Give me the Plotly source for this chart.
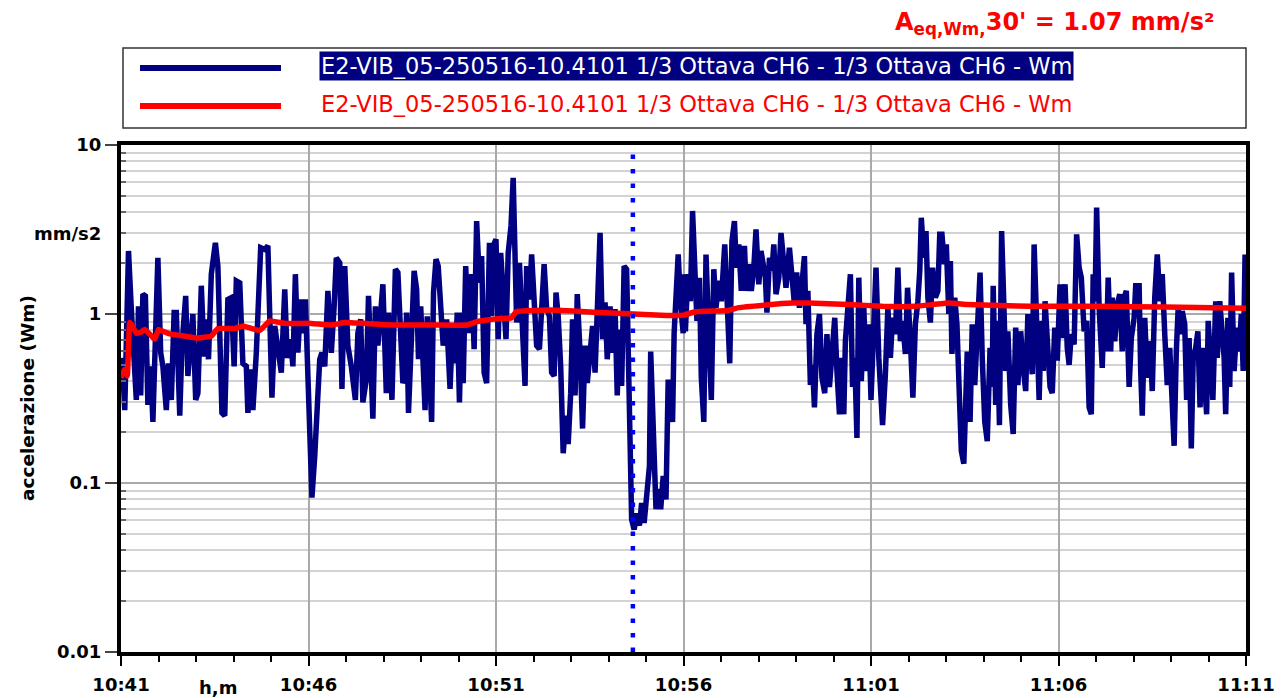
import numpy as np
import pandas as pd
import plotly.graph_objects as go

# ---------------- data ----------------
start_time = "2016-05-25 10:41:00"
duration_min = 30

# Wm weighted acceleration [mm/s2]; t = seconds after 10:41:00
blue_t = [0, 3, 6, 12, 16.5, 21, 24.5, 28, 31.5, 35, 39, 43, 47.5, 51, 55, 59, 63.5, 67, 72.5, 76, 80.5, 85, 88.5, 94, 97.5,
          103.5, 107, 111.5, 115, 119.5, 123, 128.5, 133, 136.5, 140, 144.5, 151, 155, 158.5, 161.5, 166, 171, 176.5, 181,
          184.5, 190, 195, 200.5, 203, 207.5, 211, 216.5, 223.5, 230, 235, 238, 241.5, 246, 251, 256.5, 262, 266, 271.5,
          275, 279, 283, 287.5, 291, 295, 298, 302, 305.5, 310, 314, 318, 321.5, 326, 331, 336.5, 341, 344.5, 350, 353.5,
          358, 363, 368.5, 375, 379, 383.5, 387, 392.5, 396, 400.5, 403, 407, 411, 415.5, 419, 424.5, 428, 433.5, 439, 443,
          447.5, 451,
          453, 457, 460, 463.5, 469, 473, 476, 479.5, 482.5, 486.5, 490, 494.5, 497, 500, 504, 507.5, 511.5, 515.5, 521,
          523.5, 526.5, 530.5, 534.5, 538, 541.5, 545, 547.5, 551.5, 555.5, 561, 565, 569, 573.5, 577, 581, 585, 589.5, 593,
          595.5, 600, 603.5, 607.5, 611.5, 616, 619.5, 624, 627.5, 630.5, 633, 637.5, 641, 646.5, 649, 653.5, 657, 661, 665,
          669.5, 673, 677, 681, 685.5, 689, 693, 696, 699.5, 703.5, 707.5, 712, 715.5, 719.5, 722.5, 726.5, 730, 734.5,
          738.5, 742.5, 746, 750.5, 754.5, 758.5, 762, 766.5, 770.5, 774.5, 778, 782.5, 786.5, 790.5, 794, 797.5, 801, 805,
          809, 811.5, 814.5, 817, 821, 825, 829.5, 833, 837, 841, 845.5, 847.5, 851.5, 856, 859.5, 863.5, 867.5, 872, 875.5,
          879.5, 882.5, 885, 888, 891.5, 895.5, 899.5,
          900.5, 903, 907, 911, 914.5, 919, 921.5, 925.5, 928.5, 932.5, 936, 940.5, 944.5, 948.5, 952, 956.5, 960.5, 966,
          969.5, 974, 977.5, 981.5, 984.5, 988.5, 992.5, 997.5, 1000.5, 1004.5, 1008.5, 1012.5, 1016, 1020.5, 1024, 1027,
          1031, 1033.5, 1037.5, 1041.5, 1044.5, 1048, 1052.5, 1056, 1060.5, 1064, 1069.5, 1073.5, 1077.5, 1081, 1085.5,
          1089.5, 1093.5, 1096, 1099, 1103, 1106.5, 1109.5, 1113.5, 1117.5, 1121.5, 1126, 1129.5, 1133.5, 1137.5, 1142,
          1145.5, 1149.5, 1152.5, 1156.5, 1159, 1162.5, 1167, 1170.5, 1174, 1177.5, 1180.5, 1184.5, 1188.5, 1192, 1196.5,
          1200, 1204.5, 1208, 1212.5, 1216, 1218.5, 1223, 1227, 1231, 1234.5, 1239, 1243, 1247, 1250.5, 1255, 1258.5, 1263,
          1267, 1271, 1275, 1278, 1280.5, 1284.5, 1288, 1291, 1295, 1298.5, 1303, 1307, 1310, 1313.5, 1317.5, 1320.5,
          1324.5, 1327, 1329.5, 1334, 1337.5, 1341.5, 1344.5, 1348.5, 1352,
          1354, 1358.5, 1362, 1366, 1370, 1374.5, 1378, 1382, 1386, 1390.5, 1394, 1395.5, 1399.5, 1402, 1405.5, 1409, 1413,
          1415.5, 1419, 1423.5, 1427.5, 1431.5, 1435, 1439.5, 1443.5, 1447.5, 1451, 1454.5, 1458, 1461, 1465, 1469, 1472.5,
          1475.5, 1478.5, 1482, 1486.5, 1490, 1494, 1498, 1502.5, 1506, 1510.5, 1514, 1517, 1520.5, 1525, 1529, 1533,
          1536.5, 1541, 1545, 1549, 1552.5, 1555.5, 1558.5, 1561, 1565, 1567.5, 1570, 1573, 1576.5, 1579.5, 1583.5, 1586,
          1590, 1594, 1598, 1602, 1605, 1608.5, 1613, 1616.5, 1621, 1623.5, 1629, 1631.5, 1634, 1638, 1642, 1646.5, 1650,
          1654, 1658, 1662.5, 1666, 1670, 1674, 1678, 1681, 1685, 1688.5, 1691.5, 1695.5, 1698, 1702, 1705, 1709, 1712.5,
          1715.5, 1719.5, 1723, 1726.5, 1730, 1734, 1737, 1739.5, 1743.5, 1747, 1751.5, 1754, 1758, 1761, 1765, 1767.5,
          1771, 1774, 1777, 1781, 1785, 1789, 1792.5, 1795.5, 1798.5]
blue_v = [0.55, 0.45, 0.27, 2.36, 1.07, 0.59, 0.31, 1.11, 0.33, 1.31, 1.28, 0.29, 0.49, 0.23, 0.71, 2.15, 0.59, 0.49, 0.27,
          0.51, 0.31, 1.02, 1.02, 0.25, 0.65, 1.28, 0.43, 0.65, 1.0, 0.31, 0.34, 1.47, 0.56, 0.93, 0.54, 1.72, 2.64, 1.92,
          0.65, 0.26, 0.25, 1.22, 1.25, 0.49, 1.57, 1.53, 0.51, 0.49, 0.26, 0.47, 0.27, 0.59, 2.47, 2.41, 2.53, 0.97, 0.32,
          0.85, 0.59, 0.45, 1.40, 0.55, 0.71, 0.49, 1.72, 0.59, 1.22, 0.77, 1.22, 0.53, 0.16, 0.082, 0.145, 0.31, 0.54,
          0.59, 0.49, 1.37, 0.59, 1.11, 2.15, 2.01, 0.36, 1.92, 0.65, 0.49, 0.31, 0.77, 0.93, 0.30, 0.41, 1.28, 0.33, 0.24,
          1.11, 0.65, 1.02, 1.50, 0.34, 1.02, 0.31, 1.84, 1.76, 0.63, 0.39,
          0.41, 1.02, 0.26, 0.49, 1.80, 1.40, 0.54, 1.11, 0.49, 0.27, 0.97, 0.375, 0.23, 1.34, 2.11, 1.92, 0.97, 0.65, 0.93,
          0.62, 0.36, 0.85, 0.51, 1.02, 0.30, 1.02, 0.39, 1.92, 0.77, 1.72, 0.62, 3.55, 1.53, 2.20, 0.45, 0.39, 2.64, 0.97,
          2.53, 2.77, 0.71, 2.30, 1.34, 0.71, 2.30, 3.32, 6.4, 2.77, 0.89, 2.01, 1.11, 0.375, 1.92, 1.22, 2.25, 1.34, 0.65,
          0.62, 1.07, 1.97, 1.07, 0.97, 0.45, 0.43, 1.34, 0.97, 0.49, 0.15, 0.25, 0.17, 0.34, 0.93, 0.33, 1.31, 0.59, 0.21,
          0.65, 0.39, 0.59, 0.85, 0.45, 0.89, 3.02, 0.71, 1.17, 0.54, 1.11, 0.59, 1.07, 0.33, 0.81, 0.375, 1.92, 1.84, 0.71,
          0.20, 0.061, 0.053, 0.066, 0.056, 0.076, 0.058, 0.086, 0.126, 0.60, 0.24, 0.07, 0.092, 0.07, 0.11, 0.08, 0.41,
          0.31, 0.23, 0.77, 1.22, 2.25, 1.11, 0.77,
          1.72, 0.79, 1.72, 1.19, 4.07, 1.72, 0.91, 1.64, 0.42, 0.23, 2.25, 0.76, 0.31, 1.84, 1.09, 1.57, 1.19, 2.58, 1.37,
          0.51, 2.70, 3.55, 1.88, 2.58, 1.37, 2.53, 1.37, 1.97, 1.37, 1.88, 3.17, 1.50, 2.36, 2.06, 1.64, 1.02, 2.15, 1.80,
          2.58, 1.31, 1.64, 3.02, 2.15, 1.43, 2.47, 1.64, 1.14, 1.76, 1.09, 1.50, 2.20, 0.87, 1.37, 0.38, 0.50, 0.28, 0.76,
          1.0, 0.42, 0.34, 0.76, 0.37, 0.58, 0.95, 0.46, 0.255, 0.55, 0.255, 0.69, 0.95, 1.72, 0.37, 0.55, 0.185, 1.64,
          0.40, 1.09, 0.46, 0.87, 0.31, 0.69, 1.88, 0.55, 0.28, 0.22, 0.44, 1.09, 0.55, 0.95, 0.76, 1.88, 0.69, 0.91, 0.58,
          1.43, 0.69, 0.32, 0.87, 1.19, 1.80, 3.71, 2.15, 3.10, 1.25, 0.89, 1.88, 1.25, 1.37, 2.96, 2.96, 1.97, 2.58, 1.0,
          2.06, 0.58, 1.25, 0.87, 0.32, 0.155, 0.13, 0.60,
          0.60, 0.23, 0.87, 0.38, 0.91, 1.76, 0.55, 0.23, 0.177, 0.63, 0.37, 1.47, 0.29, 0.91, 0.22, 3.10, 1.0, 0.46, 0.79,
          0.29, 0.195, 0.83, 0.38, 0.79, 0.48, 0.35, 1.0, 0.69, 0.44, 2.58, 0.76, 0.31, 0.91, 0.46, 1.19, 0.79, 0.37, 0.34,
          0.83, 0.53, 1.50, 0.72, 1.50, 0.63, 0.50, 0.76, 0.66, 2.96, 1.88, 1.64, 0.79, 0.91, 0.28, 0.255, 1.72, 1.19, 4.26,
          1.09, 0.76, 0.48, 1.14, 0.60, 1.64, 0.60, 1.25, 0.69, 1.14, 1.31, 0.60, 1.25, 1.37, 0.37, 0.72, 0.95, 1.47, 1.47,
          0.46, 0.25, 0.95, 0.42, 0.69, 0.35, 1.25, 2.25, 1.19, 1.72, 0.76, 0.38, 0.63, 0.29, 0.166, 0.60, 1.09, 0.76, 1.04,
          0.87, 0.31, 0.72, 0.16, 0.55, 0.63, 0.79, 0.28, 0.63, 0.38, 0.255, 0.91, 0.53, 0.31, 1.19, 0.55, 1.19, 0.83, 0.55,
          0.255, 0.95, 0.37, 1.76, 0.46, 0.83, 0.60, 1.0, 0.46, 2.25]

# running equivalent level [mm/s2]
red_t = [0, 6, 10, 14, 17.5, 24.5, 31.5, 38, 46, 54, 60, 67, 80.5, 102, 123, 144.5, 155, 182, 195, 222, 238, 262, 304.5,
         336.5, 358, 422, 451, 500, 553, 569, 606, 625, 632, 686, 766, 820, 873, 900, 919, 972, 988, 1031, 1074, 1100,
         1164, 1218, 1271, 1324, 1354, 1455, 1562, 1669, 1800]
red_v = [0.42, 0.47, 0.43, 0.89, 0.86, 0.77, 0.78, 0.81, 0.76, 0.71, 0.81, 0.79, 0.76, 0.74, 0.72, 0.74, 0.82, 0.82, 0.85,
         0.80, 0.91, 0.88, 0.88, 0.86, 0.89, 0.865, 0.86, 0.86, 0.86, 0.90, 0.94, 0.95, 1.03, 1.055, 1.02, 1.0, 0.98,
         0.985, 1.03, 1.05, 1.09, 1.13, 1.16, 1.16, 1.14, 1.11, 1.11, 1.16, 1.14, 1.11, 1.11, 1.10, 1.08]

cursor_s = 819          # cursor position (10:54:39)
y_ticks = [0.01, 0.1, 1, 10]
y_ticktext = ["0.01", "0.1", "1", "10"]
series_name = "E2-VIB_05-250516-10.4101 1/3 Ottava CH6 - 1/3 Ottava CH6 - Wm"
aeq_text = "<b>A<sub>eq,Wm,</sub>30' = 1.07 mm/s²</b>"

# ---------------- figure ----------------
base = pd.Timestamp(start_time)
bx = base + pd.to_timedelta(blue_t, unit="s")
rx = base + pd.to_timedelta(red_t, unit="s")
cx = base + pd.to_timedelta(cursor_s, unit="s")
end = base + pd.Timedelta(minutes=duration_min)

NAVY = "#000080"
RED = "#ff0000"
FONT = "DejaVu Sans"

fig = go.Figure()
fig.add_trace(go.Scatter(x=bx, y=blue_v, mode="lines", line=dict(color=NAVY, width=5.5), name=series_name))
fig.add_trace(go.Scatter(x=rx, y=red_v, mode="lines", line=dict(color=RED, width=5.5, shape="spline", smoothing=0.3),
                         name=series_name))
fig.add_trace(go.Scatter(x=[cx, cx], y=[y_ticks[0], 9.4], mode="lines",
                         line=dict(color="#0000ff", width=4.5, dash="4.5px,10px"), showlegend=False))

minor_vals = [m * t for t in y_ticks[:-1] for m in range(2, 10)]

# page has an 8px body margin: plot area spans x 121..1246, y 145..652 on screen
fig.update_layout(
    width=1276, height=690,
    margin=dict(l=113, r=38, t=137, b=46, autoexpand=False),
    paper_bgcolor="white", plot_bgcolor="white",
    showlegend=False,
    font=dict(family=FONT, color="black"),
    xaxis=dict(
        type="date", range=[base, end], tick0=base, dtick=300000, tickformat="%H:%M",
        ticks="outside", ticklen=10, tickwidth=1.5, tickcolor="black", ticklabelstandoff=3,
        tickfont=dict(family=FONT, size=18, color="black", weight="bold"),
        showgrid=True, gridcolor="#a9a9a9", gridwidth=1.5,
        showline=True, linecolor="black", linewidth=4, mirror=True, automargin=False,
        minor=dict(dtick=60000, tick0=base, ticks="outside", ticklen=6, tickwidth=1.5, tickcolor="black",
                   showgrid=False),
        zeroline=False,
    ),
    yaxis=dict(
        type="log", range=[-2, 1], tickvals=y_ticks, ticktext=y_ticktext,
        ticks="outside", ticklen=12, tickwidth=1.5, tickcolor="#444444",
        tickfont=dict(family=FONT, size=18, color="black", weight="bold"),
        showgrid=True, gridcolor="#a9a9a9", gridwidth=2,
        showline=True, linecolor="black", linewidth=4, mirror=True, automargin=False,
        minor=dict(tickvals=minor_vals, ticks="inside", ticklen=5, tickcolor="#666666",
                   showgrid=True, gridcolor="#d3d3d3", gridwidth=2),
        zeroline=False,
    ),
)

# helpers: screen pixel -> paper fraction of the plot area
def px_x(p):
    return (p - 121) / 1125.0

def px_y(p):
    return (652 - p) / 507.0

# legend frame and entries (drawn manually, as in the original)
fig.add_shape(type="rect", xref="paper", yref="paper", x0=px_x(123), x1=px_x(1246), y0=px_y(128), y1=px_y(48),
              line=dict(color="#333333", width=1.5), fillcolor="white")
for yy, col in ((68, NAVY), (106, RED)):
    fig.add_shape(type="line", xref="paper", yref="paper", x0=px_x(140), x1=px_x(281), y0=px_y(yy), y1=px_y(yy),
                  line=dict(color=col, width=6))
fig.add_annotation(xref="paper", yref="paper", x=px_x(319), y=px_y(66), xanchor="left", yanchor="middle",
                   text=series_name, showarrow=False, bgcolor=NAVY, borderpad=1,
                   font=dict(family=FONT, size=22.5, color="white"))
fig.add_annotation(xref="paper", yref="paper", x=px_x(319), y=px_y(104), xanchor="left", yanchor="middle",
                   text=series_name, showarrow=False,
                   font=dict(family=FONT, size=22.5, color=RED))

# title / labels
fig.add_annotation(xref="paper", yref="paper", x=px_x(1216), y=px_y(24), xanchor="right", yanchor="middle",
                   text=aeq_text, showarrow=False, font=dict(family=FONT, size=24, color=RED))
fig.add_annotation(xref="paper", yref="paper", x=px_x(27), y=px_y(398), xanchor="center", yanchor="middle",
                   text="<b>accelerazione (Wm)</b>", textangle=-90, showarrow=False,
                   font=dict(family=FONT, size=18.5, color="black"))
fig.add_annotation(xref="paper", yref="paper", x=px_x(67), y=px_y(233), xanchor="center", yanchor="middle",
                   text="<b>mm/s2</b>", showarrow=False, font=dict(family=FONT, size=18, color="black"))
fig.add_annotation(xref="paper", yref="paper", x=px_x(218), y=px_y(687), xanchor="center", yanchor="middle",
                   text="<b>h,m</b>", showarrow=False, font=dict(family=FONT, size=18, color="black"))

fig.write_html("out.html")
